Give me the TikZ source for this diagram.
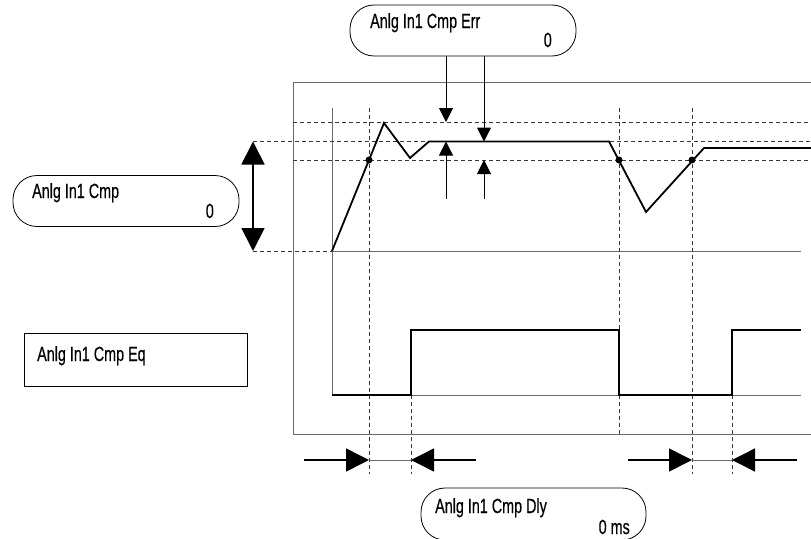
\documentclass[tikz,border=0pt]{standalone}
\usepackage{fontspec}
\setmainfont{Liberation Sans}[FakeStretch=0.7, FakeBold=0.4]
\usetikzlibrary{arrows.meta, positioning, calc}
\definecolor{frameg}{RGB}{105,105,105}
\definecolor{dashg}{RGB}{55,55,55}

\begin{document}
\begin{tikzpicture}[
  x=1pt, y=-1pt,
  pill/.style={draw, line width=0.8pt, rounded corners=24pt, minimum width=226pt,
               minimum height=51pt, inner sep=0pt},
  flatbox/.style={draw, line width=0.8pt, minimum width=223pt, minimum height=53pt, inner sep=0pt},
  lbl/.style={font=\fontsize{20.5}{24}\selectfont, inner sep=0pt},
  guide/.style={dashg, line width=0.7pt, dash pattern=on 4pt off 3pt},
  axis/.style={frameg, line width=1pt},
  sig/.style={line width=1.8pt, line join=miter},
  dot/.style={circle, fill, inner sep=0pt, minimum size=7pt},
  bigtip/.style={-{Triangle[length=23pt,width=23pt]}, line width=1.5pt},
  bigtips/.style={{Triangle[length=23pt,width=23pt]}-{Triangle[length=23pt,width=23pt]}, line width=1.8pt},
  smalltip/.style={-{Triangle[length=14pt,width=14pt]}, line width=1pt},
]
  \useasboundingbox (0,0) rectangle (811,538);

  % labels
  \node[pill] (err) at (463,30.5) {};
  \node[lbl, anchor=base west] (errname) at (370,28) {Anlg In1 Cmp Err};
  \node[lbl, anchor=base east] (errval) at (552,47) {0};
  \node[pill] (cmp) at (126,201) {};
  \node[lbl, anchor=base west] (cmpname) at (32,198) {Anlg In1 Cmp};
  \node[lbl, anchor=base east] (cmpval) at (214,218) {0};
  \node[flatbox] (eq) at (135.5,359.5) {};
  \node[lbl, anchor=base west] (eqname) at (37,361) {Anlg In1 Cmp Eq};
  \node[pill, minimum width=225pt, minimum height=52pt] (dly) at (533.5,514) {};
  \node[lbl, anchor=base west] (dlyname) at (435,513) {Anlg In1 Cmp Dly};
  \node[lbl, anchor=base east] (dlyval) at (630,534) {0 ms};

  % frame and axes
  \draw[axis] (811,82) -- (293,82) -- (293,434) -- (811,434);
  \draw[axis] (332,108) -- (332,395) -- (801,395);
  \draw[axis] (332,251) -- (801,251);

  % guide lines
  \draw[guide] (293,122) -- (811,122);
  \draw[guide] (253,141.5) -- (811,141.5);
  \draw[guide] (293,160) -- (811,160);
  \draw[guide] (253,251) -- (332,251);
  \draw[guide] (369,108) -- (369,474);
  \draw[guide] (411,395) -- (411,474);
  \draw[guide] (619,108) -- (619,434);
  \draw[guide] (692,108) -- (692,474);
  \draw[guide] (732,395) -- (732,474);

  % analog signal
  \draw[sig] (332,251) -- (384,123) -- (410,158) -- (429,141.5) -- (609,141.5)
    -- (646,212) -- (704,148) -- (811,148);
  \node[dot] (on1) at (369,160) {};
  \node[dot] (off1) at (619,160) {};
  \node[dot] (on2) at (692,160) {};

  % compare equal output
  \draw[sig] (332,395) -- (411,395) -- (411,330) -- (619,330) -- (619,395)
    -- (732,395) -- (732,330) -- (801,330);

  % band arrows
  \coordinate (bandtop) at (253,141.5);
  \coordinate (bandbot) at (253,251);
  \draw[bigtips] (bandtop) -- (bandbot);

  \coordinate (errhi) at (446,122);
  \coordinate (errmid) at (484,141.5);
  \coordinate (errlo) at (484,160);
  \coordinate (errup) at (446,141.5);
  \draw[smalltip] (err.south -| errhi) -- (errhi);
  \draw[smalltip] (err.south -| errmid) -- (errmid);
  \draw[smalltip] (446,199) -- (errup);
  \draw[smalltip] (484,199) -- (errlo);

  % delay arrows
  \coordinate (d1a) at (369,460);
  \coordinate (d1b) at (411,460);
  \coordinate (d2a) at (692,460);
  \coordinate (d2b) at (732,460);
  \draw[bigtip] (304,460) -- (d1a);
  \draw[bigtip] (476,460) -- (d1b);
  \draw[frameg, line width=0.6pt] (d1a) -- (d1b);
  \draw[bigtip] (628,460) -- (d2a);
  \draw[bigtip] (797,460) -- (d2b);
  \draw[frameg, line width=0.6pt] (d2a) -- (d2b);
\end{tikzpicture}
\end{document}
